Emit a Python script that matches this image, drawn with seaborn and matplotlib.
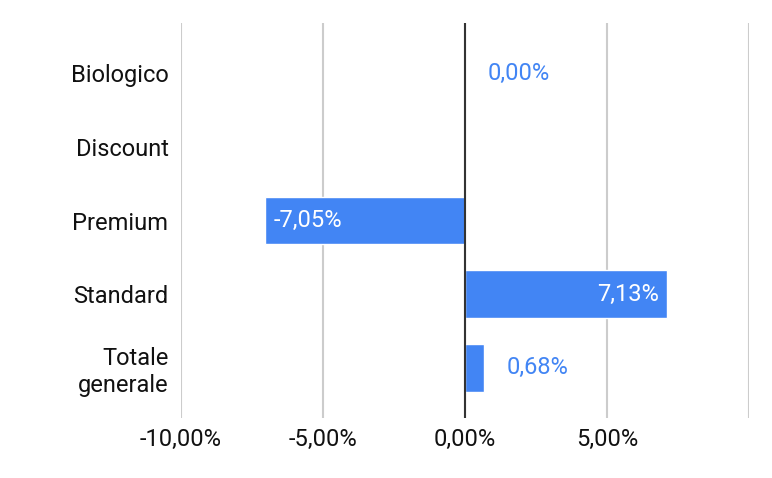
import numpy as np
import pandas as pd
import seaborn as sns
import matplotlib
matplotlib.use('Agg')
import matplotlib.pyplot as plt

# dati
categorie = ["Biologico", "Discount", "Premium", "Standard", "Totale\ngenerale"]
valori = [0.00, np.nan, -7.05, 7.13, 0.68]
etichette = ["0,00%", "", "-7,05%", "7,13%", "0,68%"]
tick_x = [-10, -5, 0, 5, 10]
tick_x_lab = ["-10,00%", "-5,00%", "0,00%", "5,00%", ""]

blu = "#4285F4"
fs = 17

sns.set_theme(style="white")
plt.rcParams['font.family'] = ['Roboto', 'DejaVu Sans']

df = pd.DataFrame({"categoria": categorie, "valore": valori})

fig = plt.figure(figsize=(7.72, 4.78), dpi=100)
ax = fig.add_axes([181 / 772, 60 / 478, (749 - 181) / 772, (418 - 23) / 478])

sns.barplot(data=df, x="valore", y="categoria", orient="h", color=blu,
            saturation=1, width=0.65, ax=ax, zorder=3)

ax.set_xlim(-10, 10)
ax.set_ylim(4.68, -0.68)
ax.set_xticks(tick_x)
ax.set_xticklabels(tick_x_lab)
ax.set_xlabel("")
ax.set_ylabel("")
for s in ax.spines.values():
    s.set_visible(False)
ax.grid(axis="x", color="#cccccc", linewidth=1.5, zorder=0)
ax.grid(axis="y", visible=False)
ax.axvline(0, color="#333333", linewidth=1.5, zorder=4)
ax.tick_params(axis="both", length=0, labelsize=fs, colors="#111111")
ax.tick_params(axis="x", pad=7)
ax.tick_params(axis="y", pad=9)

# etichette dei valori
for i, (v, t) in enumerate(zip(valori, etichette)):
    if np.isnan(v) or t == "":
        continue
    if v < -1:
        ax.text(v + 0.3, i, t, color="white", ha="left", va="center", fontsize=fs, zorder=5)
    elif v > 1:
        ax.text(v - 0.3, i, t, color="white", ha="right", va="center", fontsize=fs, zorder=5)
    else:
        ax.text(max(v, 0) + 0.8, i, t, color=blu, ha="left", va="center", fontsize=fs, zorder=5)

fig.savefig("out.png", dpi=100)
